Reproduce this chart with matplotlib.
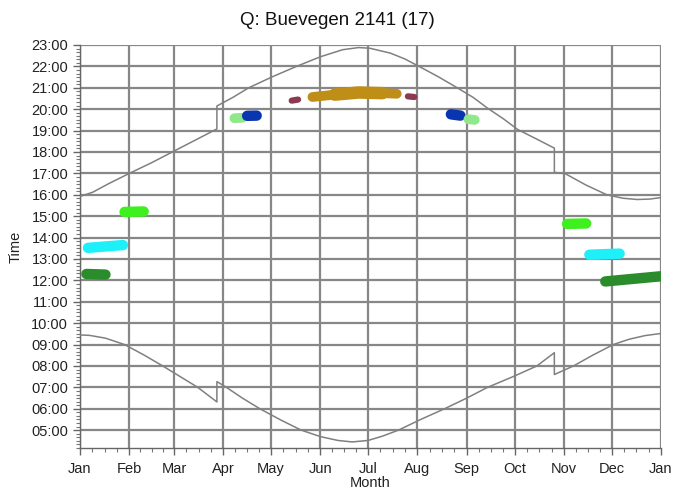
import matplotlib
matplotlib.use("Agg")
import matplotlib.pyplot as plt
from matplotlib.ticker import FixedLocator, MultipleLocator, FuncFormatter

plt.rcParams['font.family'] = ['Liberation Sans', 'DejaVu Sans']

# ---- data ----
month_labels = ['Jan', 'Feb', 'Mar', 'Apr', 'May', 'Jun', 'Jul', 'Aug', 'Sep', 'Oct', 'Nov', 'Dec', 'Jan']
month_start_days = [0, 31, 59, 90, 120, 151, 181, 212, 243, 273, 304, 334, 365]

sunset_days = [0, 8, 18, 31, 45, 58, 71, 84, 86, 86.01, 96, 106, 121, 136, 151, 165, 175, 182,
               195, 204, 213, 225, 237, 247, 256, 266, 275, 287, 298, 298.01, 305, 318, 331,
               341, 350, 358, 365]
sunset_hours = [15.92, 16.12, 16.52, 17.00, 17.50, 18.00, 18.50, 19.00, 19.08, 20.15, 20.55, 21.00,
                21.52, 22.00, 22.45, 22.78, 22.88, 22.85, 22.62, 22.35, 22.00, 21.52, 21.00,
                20.55, 20.05, 19.55, 19.05, 18.60, 18.18, 17.05, 16.98, 16.45, 16.00, 15.84,
                15.78, 15.80, 15.87]

sunrise_days = [0, 6, 16, 28, 40, 52, 63, 74, 86, 86.01, 92, 102, 113, 126, 139, 151, 162, 171,
                181, 190, 200, 214, 229, 243, 256, 272, 287, 298, 298.01, 310, 322, 335,
                345, 355, 365]
sunrise_hours = [9.45, 9.43, 9.30, 9.00, 8.52, 8.00, 7.50, 7.00, 6.32, 7.27, 7.00, 6.50, 6.00,
                 5.48, 5.00, 4.70, 4.52, 4.45, 4.52, 4.72, 5.00, 5.50, 6.00, 6.50, 7.00, 7.50,
                 8.00, 8.62, 7.60, 8.00, 8.50, 9.00, 9.25, 9.42, 9.52]

blob_colors = ['#2b8c2b', '#1ef0fa', '#3ef01e', '#8fe88a', '#0a35b0', '#8b3a50',
               '#8b3a50', '#0a35b0', '#8fe88a', '#3ef01e', '#1ef0fa', '#2b8c2b']
blob_start_day = [4, 5, 28, 97, 105, 133, 206, 233, 244, 306, 320, 330]
blob_end_day = [16, 27, 40, 102, 111, 137, 210, 239, 248, 318, 339, 366]
blob_start_time = [12.30, 13.52, 15.20, 19.58, 19.69, 20.40, 20.60, 19.76, 19.53, 14.64, 13.20, 11.95]
blob_end_time = [12.27, 13.65, 15.22, 19.60, 19.70, 20.45, 20.57, 19.70, 19.50, 14.66, 13.25, 12.20]
blob_widths = [7.5, 7.5, 7.5, 7, 7.5, 4.5, 4.5, 7.5, 7, 7.5, 7.5, 7.5]

gold_days = [146, 160, 175, 190, 199]
gold_times = [20.57, 20.68, 20.78, 20.75, 20.72]
gold_color = '#be8e16'

# ---- figure ----
fig = plt.figure(figsize=(6.75, 4.91), dpi=100)
ax = fig.add_axes([80/675, 43/491, 581/675, 403/491])

ax.set_xlim(0, 365)
ax.set_ylim(4 + 1/6, 23)

grid_color = '#878787'
ax.set_xticks(month_start_days)
ax.set_xticklabels(month_labels)
ax.xaxis.set_minor_locator(FixedLocator([m + (month_start_days[i+1]-m)*k/4
                                         for i, m in enumerate(month_start_days[:-1]) for k in (1, 2, 3)]))
ax.set_yticks(range(5, 24))
ax.yaxis.set_major_formatter(FuncFormatter(lambda v, p: f"{int(round(v)):02d}:00"))
ax.yaxis.set_minor_locator(MultipleLocator(1/6))

ax.grid(True, which='major', color=grid_color, linewidth=1.6)
ax.set_axisbelow(True)
for s in ['top', 'right']:
    ax.spines[s].set_visible(False)
for s in ['left', 'bottom']:
    ax.spines[s].set_color('#666666')
    ax.spines[s].set_linewidth(1.0)

ax.tick_params(which='major', direction='out', length=5, width=1, color='#666666',
               labelsize=10.5, labelcolor='#222222')
ax.tick_params(axis='x', which='major', pad=5)
ax.tick_params(which='minor', direction='out', length=3, width=0.8, color='#777777')

ax.plot(sunset_days, sunset_hours, color='#808080', linewidth=1.1, zorder=3)
ax.plot(sunrise_days, sunrise_hours, color='#808080', linewidth=1.1, zorder=3)

for c, d0, d1, t0, t1, w in zip(blob_colors, blob_start_day, blob_end_day,
                               blob_start_time, blob_end_time, blob_widths):
    ax.plot([d0, d1], [t0, t1], color=c, linewidth=w, solid_capstyle='round', zorder=4)

ax.plot(gold_days, gold_times, color=gold_color, linewidth=7, solid_capstyle='round',
        solid_joinstyle='round', zorder=4)
ax.plot(gold_days[1:4], gold_times[1:4], color=gold_color, linewidth=9, solid_capstyle='round',
        solid_joinstyle='round', zorder=4)

ax.set_xlabel('Month', fontsize=10.5, color='#222222', labelpad=0)
ax.set_ylabel('Time', fontsize=10.5, color='#222222', labelpad=6)
fig.suptitle('Q: Buevegen 2141 (17)', fontsize=13.5, color='#111111', y=0.975)

fig.savefig('out.png', dpi=100)
